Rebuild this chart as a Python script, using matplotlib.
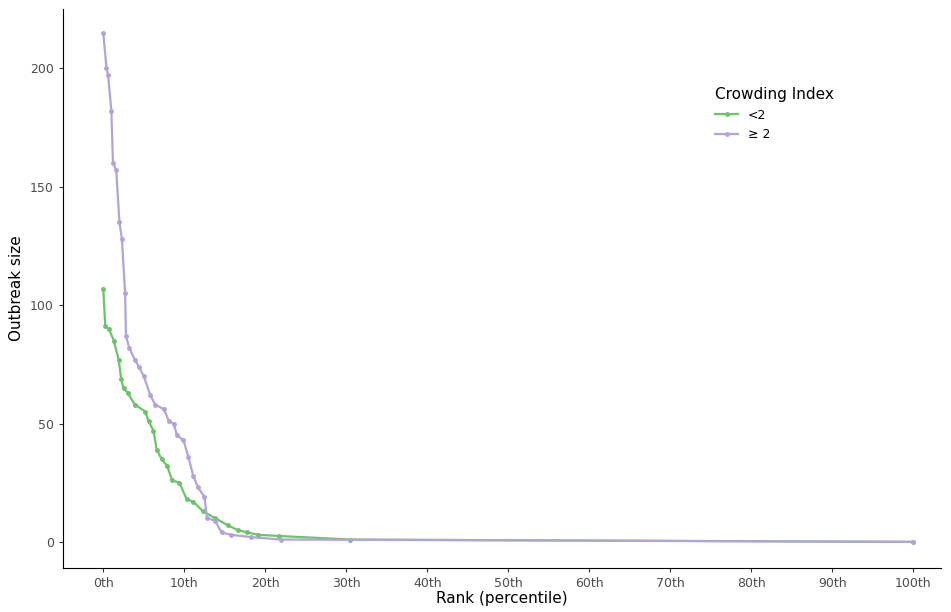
import matplotlib.pyplot as plt
import numpy as np

# values (x in percentile rank)
lt2_rank = [0, 0.25, 0.7, 1.3, 1.9, 2.2, 2.5, 3.0, 3.9, 5.2, 5.6, 6.2, 6.6, 7.2, 7.9, 8.5, 9.4, 10.3, 11.1, 12.3, 13.8, 15.4, 16.6, 17.8, 19.1, 21.7, 30.5, 100]
lt2_size = [107, 91, 90, 85, 77, 69, 65, 63, 58, 55, 51, 47, 39, 35, 32, 26, 25, 18, 17, 13, 10, 7, 5, 4, 3, 2.5, 1, 0]
ge2_rank = [0, 0.4, 0.6, 1.0, 1.2, 1.6, 2.0, 2.3, 2.7, 2.8, 3.2, 3.9, 4.4, 5.0, 5.8, 6.4, 7.5, 8.1, 8.7, 9.1, 9.9, 10.5, 11.1, 11.7, 12.5, 12.8, 13.8, 14.6, 15.8, 18.3, 21.9, 100]
ge2_size = [215, 200, 197, 182, 160, 157, 135, 128, 105, 87, 82, 77, 74, 70, 62, 58, 56, 51, 50, 45, 43, 36, 28, 23, 19, 10, 9, 4, 3, 2, 1, 0]

green = '#6cc36a'
purple = '#b3a3d8'

fig, ax = plt.subplots(figsize=(9.51, 6.12), dpi=100)
fig.subplots_adjust(left=0.066, right=0.99, top=0.985, bottom=0.072)

ax.plot(lt2_rank, lt2_size, color=green, lw=1.6, marker='o', ms=2.5, label='<2')
ax.plot(ge2_rank, ge2_size, color=purple, lw=1.6, marker='o', ms=2.5, label='≥ 2')

ax.set_xlim(-5, 103.5)
ax.set_ylim(-11, 225)
ticks = np.arange(0, 101, 10)
ax.set_xticks(ticks)
ax.set_xticklabels([f'{t}th' for t in ticks])
ax.set_yticks([0, 50, 100, 150, 200])
ax.set_xlabel('Rank (percentile)', fontsize=11, labelpad=1)
ax.set_ylabel('Outbreak size', fontsize=11)
ax.tick_params(labelsize=9, colors='#4d4d4d', length=3)
ax.tick_params(axis='both', color='#333333')
for s in ['top', 'right']:
    ax.spines[s].set_visible(False)

leg = ax.legend(title='Crowding Index', loc='upper left', bbox_to_anchor=(0.73, 0.88),
                frameon=False, fontsize=9, title_fontsize=11, handlelength=1.8)
leg._legend_box.align = 'left'

fig.savefig('out.png')
